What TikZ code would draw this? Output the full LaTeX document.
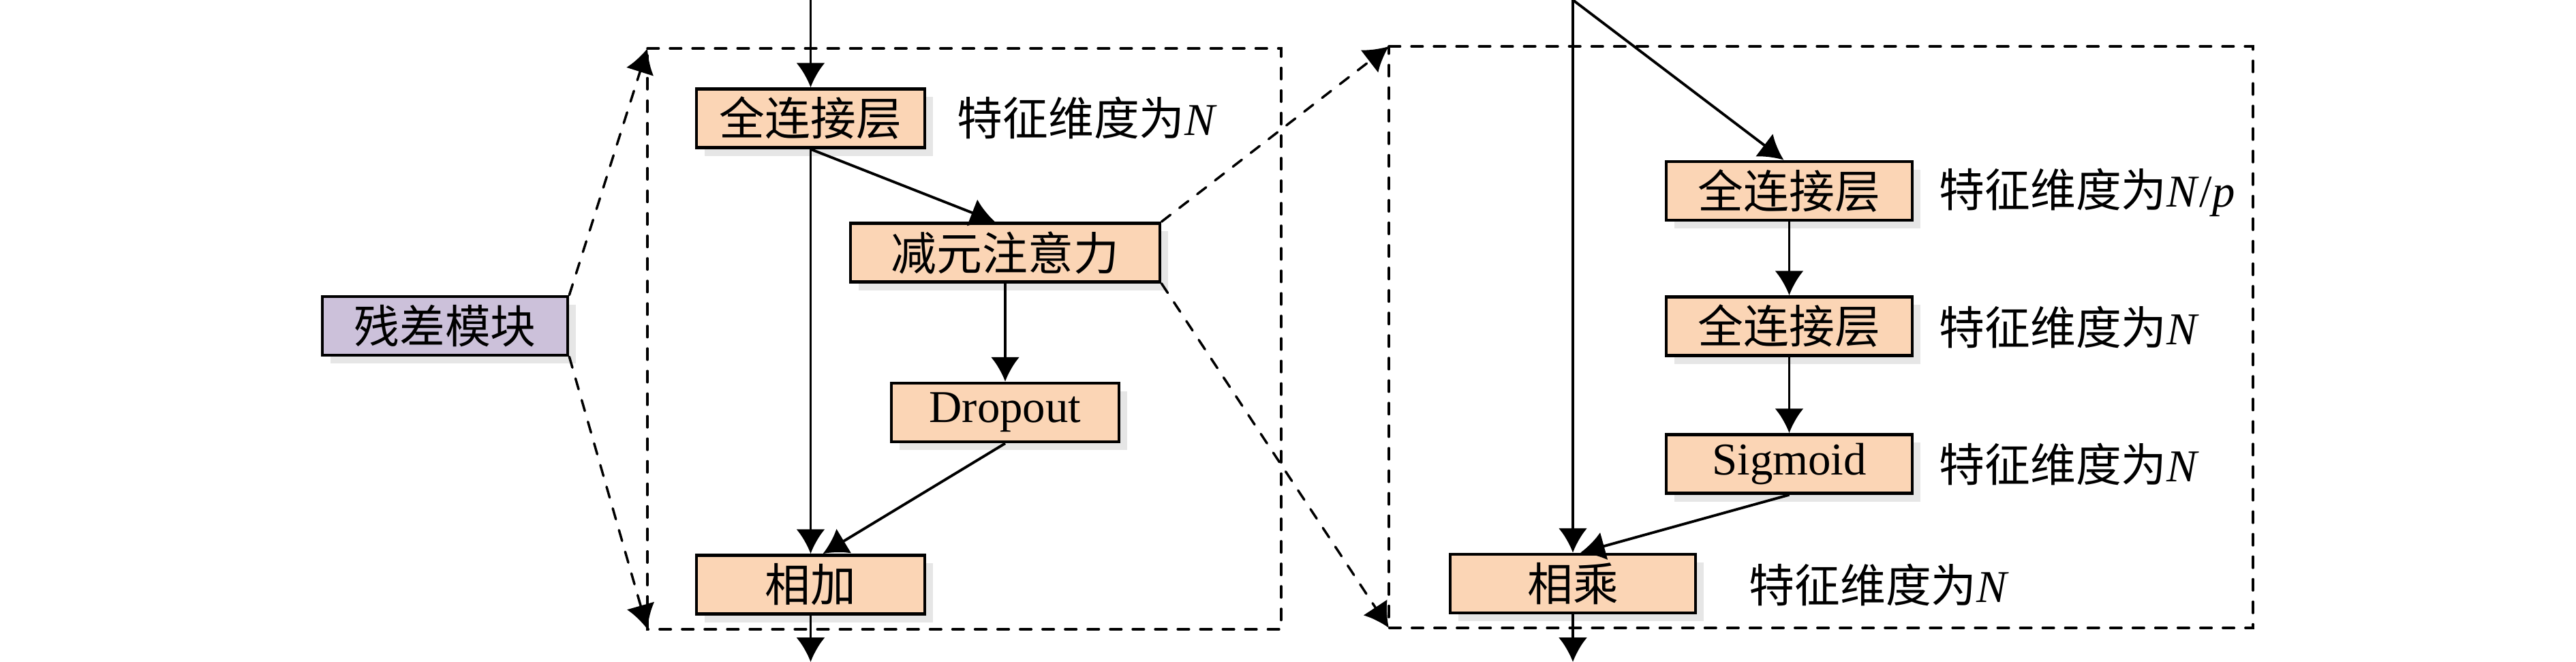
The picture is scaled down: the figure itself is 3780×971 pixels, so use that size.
\documentclass[tikz,border=0pt]{standalone}
\usepackage{fontspec}
\setmainfont{Liberation Serif}
\newfontfamily\cjk{Noto Sans CJK SC}
\usetikzlibrary{arrows.meta,shadows}
\definecolor{peach}{HTML}{FBD5B5}
\definecolor{lav}{HTML}{CCC1DA}
\definecolor{shd}{HTML}{E6E6E6}
\tikzset{
  blk/.style={draw=black, line width=1.3pt, fill=peach, inner sep=0pt,
    minimum height=0.86cm,
    drop shadow={shadow xshift=0.12cm, shadow yshift=-0.12cm, fill=shd, opacity=1},
    font=\fontsize{19pt}{22pt}\selectfont},
  lbl/.style={anchor=west, inner sep=0pt, font=\fontsize{19pt}{22pt}\selectfont},
  arr/.style={line width=1.1pt, -{Latex[length=10.2pt,width=12pt]}},
  darr/.style={line width=1pt, line cap=round, dash pattern=on 4.7pt off 4.7pt, -{Latex[length=10.2pt,width=12pt]}},
  dbox/.style={line width=1pt, line cap=round, dash pattern=on 4.7pt off 4.7pt},
}
\begin{document}
\begin{tikzpicture}[x=0.01cm, y=-0.01cm]
\useasboundingbox (0,0) rectangle (3780,971);
% dashed frames
\coordinate (L1) at (950,71);
\coordinate (L2) at (950,923);
\coordinate (L3) at (1880,923);
\coordinate (R1) at (2038,68);
\coordinate (R2) at (2038,921);
\coordinate (R3) at (3306,921);
\draw[dbox] (L1) -- (1880,71) -- (L3) -- (L2) -- cycle;
\draw[dbox] (R1) -- (3306,68) -- (R3) -- (R2) -- cycle;
% left nodes
\node[blk, minimum width=3.35cm] (fc1) at (1189.5,173.5) {\cjk 全连接层};
\node[blk, minimum width=4.54cm] (att) at (1475,370.5) {\cjk 减元注意力};
\node[blk, minimum width=3.34cm] (drop) at (1475,605) {Dropout};
\node[blk, minimum width=3.35cm] (add) at (1189.5,857.5) {\cjk 相加};
\node[blk, minimum width=3.60cm, fill=lav] (res) at (653,478) {\cjk 残差模块};
\node[lbl] (t1) at (1404,173) {{\cjk 特征维度为}\textit{N}};
% right nodes
\node[blk, minimum width=3.61cm] (fcA) at (2625.5,280) {\cjk 全连接层};
\node[blk, minimum width=3.61cm] (fcB) at (2625.5,478.5) {\cjk 全连接层};
\node[blk, minimum width=3.61cm] (sig) at (2625.5,680.5) {Sigmoid};
\node[blk, minimum width=3.60cm] (mul) at (2308,856) {\cjk 相乘};
\node[lbl] (t2) at (2845,282) {{\cjk 特征维度为}\textit{N}/\textit{p}};
\node[lbl] (t3) at (2845,480) {{\cjk 特征维度为}\textit{N}};
\node[lbl] (t4) at (2845,681) {{\cjk 特征维度为}\textit{N}};
\node[lbl] (t5) at (2566,858) {{\cjk 特征维度为}\textit{N}};
% coordinates for free ends
\coordinate (inL) at (1189.5,0);
\coordinate (outL) at (1189.5,971);
\coordinate (inR) at (2308,0);
\coordinate (outR) at (2308,971);
% left connectors
\draw[arr] (inL) -- (fc1.north);
\draw[arr] (fc1.south) -- ([xshift=-0.15cm]att.north);
\draw[arr] (fc1.south) -- (add.north);
\draw[arr] (att.south) -- (drop.north);
\draw[arr] (drop.south) -- ([xshift=0.18cm]add.north);
\draw[arr] (add.south) -- (outL);
\draw[darr] (res.north east) -- (L1);
\draw[darr] (res.south east) -- (L2);
\draw[darr] (att.north east) -- (R1);
\draw[darr] (att.south east) -- (R2);
% right connectors
\draw[arr] (inR) -- (mul.north);
\draw[arr] (inR) -- ([xshift=-0.08cm]fcA.north);
\draw[arr] (fcA.south) -- (fcB.north);
\draw[arr] (fcB.south) -- (sig.north);
\draw[arr] (sig.south) -- ([xshift=0.11cm]mul.north);
\draw[arr] (mul.south) -- (outR);
\end{tikzpicture}
\end{document}
